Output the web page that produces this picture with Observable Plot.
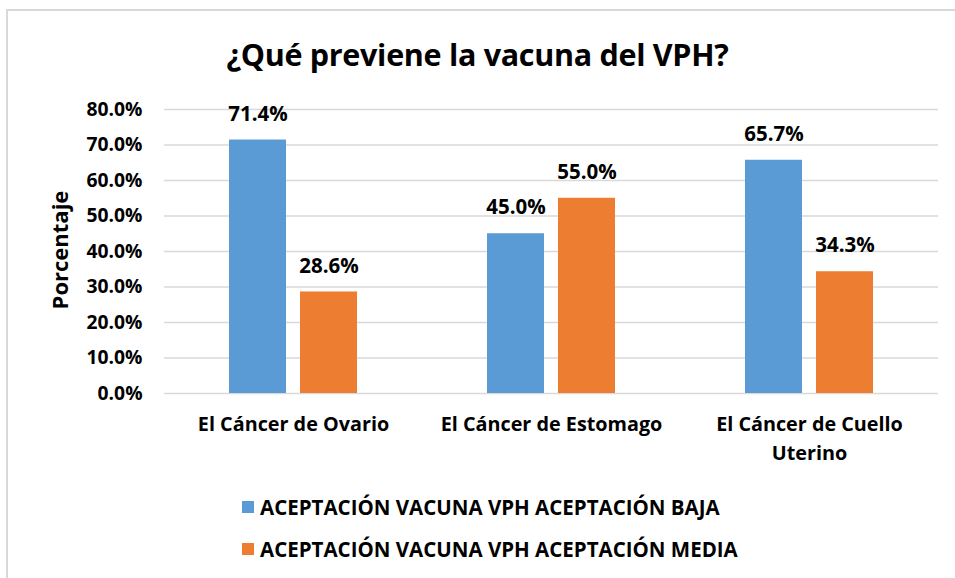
<!DOCTYPE html>
<html>
<head>
<meta charset="utf-8">
<script src="https://cdn.jsdelivr.net/npm/d3@7"></script>
<script src="https://cdn.jsdelivr.net/npm/@observablehq/plot@0.6"></script>
<style>
  html, body { margin: 0; padding: 0; background: #fff; }
  body { width: 955px; height: 578px; position: relative; overflow: hidden; font-family: "Open Sans", Lato, sans-serif; font-weight: bold; color: #000; }
  #frameTop { position: absolute; left: 6px; top: 9px; width: 949px; height: 2px; background: #d9d9d9; }
  #frameLeft { position: absolute; left: 6px; top: 9px; width: 2px; height: 569px; background: #d9d9d9; }
  #title { position: absolute; left: 0; width: 955px; top: 34px; text-align: center; font-size: 30.5px; line-height: 40px; letter-spacing: -0.3px; }
  #chart { position: absolute; left: 0; top: 0; }
  #ylabel { position: absolute; left: 59px; top: 250px; transform: translate(-50%, -50%) rotate(-90deg); font-size: 22px; white-space: nowrap; }
  .leg { position: absolute; left: 242px; font-size: 20.5px; display: flex; align-items: center; white-space: nowrap; }
  .sw { width: 12px; height: 12px; margin-right: 6px; }
</style>
</head>
<body>
<div id="frameTop"></div>
<div id="frameLeft"></div>
<div id="chart"></div>
<div id="title">¿Qué previene la vacuna del VPH?</div>
<div id="ylabel">Porcentaje</div>
<div id="legend"></div>
<script>
const categories = ["El Cáncer de Ovario", "El Cáncer de Estomago", "El Cáncer de Cuello Uterino"];
const categoryLabels = ["El Cáncer de Ovario", "El Cáncer de Estomago", "El Cáncer de Cuello\nUterino"];
const seriesNames = ["ACEPTACIÓN VACUNA VPH ACEPTACIÓN BAJA", "ACEPTACIÓN VACUNA VPH ACEPTACIÓN MEDIA"];
const seriesColors = ["#5B9BD5", "#ED7D31"];
const bajaValues = [71.4, 45.0, 65.7];
const mediaValues = [28.6, 55.0, 34.3];
const yTicks = [0, 10, 20, 30, 40, 50, 60, 70, 80];

const data = [];
categories.forEach((c, i) => {
  data.push({category: c, series: seriesNames[0], value: bajaValues[i]});
  data.push({category: c, series: seriesNames[1], value: mediaValues[i]});
});

const font = "'Open Sans', Lato, sans-serif";
const plot = Plot.plot({
  width: 955,
  height: 473,
  marginLeft: 163,
  marginRight: 17,
  marginTop: 109,
  marginBottom: 80,
  style: {fontFamily: font, fontWeight: "bold", fontSize: "19px", color: "#000", background: "transparent"},
  fx: {domain: categories, padding: 0, label: null},
  x: {domain: seriesNames, paddingInner: 0.194, paddingOuter: 0.889, axis: null},
  y: {domain: [0, 80], label: null},
  color: {domain: seriesNames, range: seriesColors},
  marks: [
    Plot.gridY(yTicks, {stroke: "#d9d9d9", strokeOpacity: 1, strokeWidth: 1.5}),
    Plot.barY(data, {fx: "category", x: "series", y: "value", fill: "series"}),
    Plot.text(data, {fx: "category", x: "series", y: "value", text: d => d.value.toFixed(1) + "%", dy: -26, fontSize: 20.5, fontWeight: "bold", fill: "#000"}),
    Plot.axisY({ticks: yTicks, tickFormat: d => d.toFixed(1) + "%", tickSize: 0, tickPadding: 22, label: null, fontSize: 19.3}),
    Plot.axisFx({anchor: "bottom", tickSize: 0, tickPadding: 18, label: null, fontSize: 19.8, lineHeight: 1.42, tickFormat: d => categoryLabels[categories.indexOf(d)]})
  ]
});
document.getElementById("chart").appendChild(plot);

const legend = document.getElementById("legend");
seriesNames.forEach((s, i) => {
  const row = document.createElement("div");
  row.className = "leg";
  row.style.top = (493 + i * 42) + "px";
  row.innerHTML = `<span class="sw" style="background:${seriesColors[i]}"></span><span>${s}</span>`;
  legend.appendChild(row);
});
</script>
</body>
</html>
